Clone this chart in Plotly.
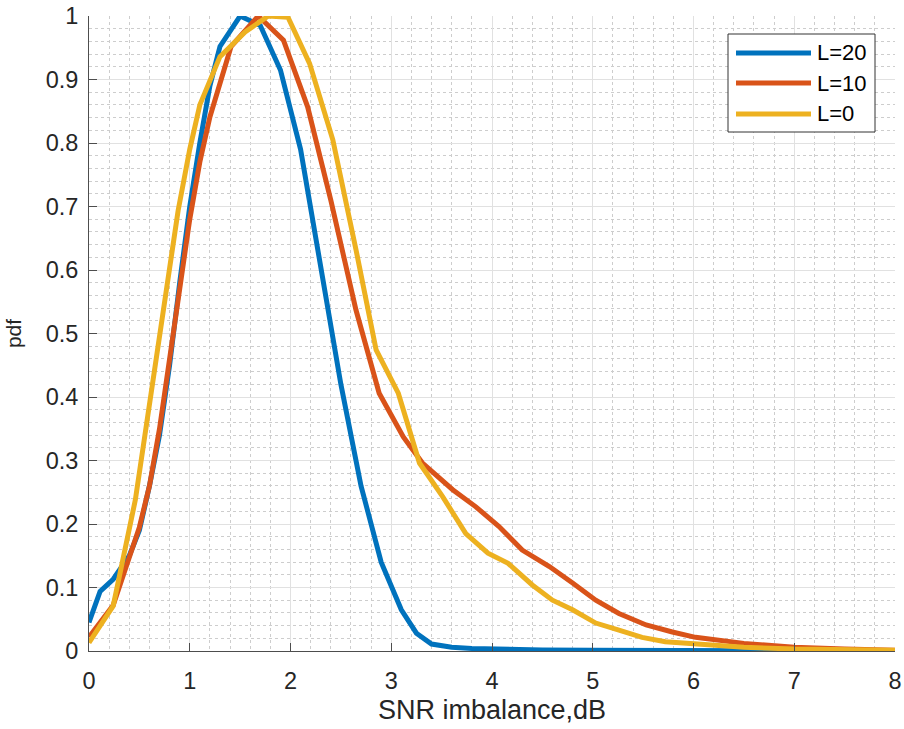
import plotly.graph_objects as go

# ---- data ----
x_L20 = [0.0, 0.11, 0.24, 0.4, 0.5, 0.6, 0.7, 0.8, 0.9, 1.0, 1.1, 1.2, 1.3, 1.5, 1.7, 1.9, 2.1, 2.3, 2.5,
         2.7, 2.9, 3.1, 3.25, 3.4, 3.6, 3.8, 4.0, 4.5, 5.0, 6.0, 7.0, 8.0]
y_L20 = [0.045, 0.094, 0.113, 0.15, 0.19, 0.26, 0.34, 0.45, 0.58, 0.70, 0.80, 0.89, 0.952, 1.0, 0.985, 0.915, 0.79, 0.61, 0.42,
         0.26, 0.14, 0.065, 0.028, 0.011, 0.006, 0.004, 0.003, 0.0015, 0.001, 0.0004, 0.0001, 0.0]

x_L10 = [0.0, 0.24, 0.5, 0.6, 0.7, 0.8, 0.9, 1.0, 1.1, 1.2, 1.41, 1.68, 1.93, 2.17, 2.4, 2.65, 2.88, 3.12,
         3.31, 3.61, 3.84, 4.07, 4.3, 4.57, 4.8, 5.03, 5.26, 5.53, 5.79, 6.02, 6.5, 7.0, 7.5, 8.0]
y_L10 = [0.022, 0.072, 0.195, 0.26, 0.35, 0.46, 0.58, 0.68, 0.77, 0.841, 0.952, 1.0, 0.962, 0.857, 0.71, 0.537, 0.406, 0.337,
         0.296, 0.254, 0.227, 0.196, 0.159, 0.133, 0.107, 0.08, 0.059, 0.041, 0.03, 0.0215, 0.012, 0.006, 0.003, 0.001]

x_L0 = [0.0, 0.24, 0.46, 0.6, 0.7, 0.885, 1.0, 1.1, 1.3, 1.55, 1.78, 1.975, 2.19, 2.42, 2.65, 2.85, 3.07,
        3.28, 3.51, 3.74, 3.96, 4.16, 4.4, 4.6, 4.8, 5.03, 5.26, 5.49, 5.72, 6.02, 6.5, 7.0, 8.0]
y_L0 = [0.013, 0.071, 0.238, 0.39, 0.5, 0.694, 0.79, 0.86, 0.936, 0.975, 1.0, 0.998, 0.925, 0.805, 0.632, 0.474, 0.406,
        0.296, 0.243, 0.185, 0.154, 0.138, 0.104, 0.08, 0.065, 0.044, 0.033, 0.0215, 0.0147, 0.011, 0.006, 0.003, 0.001]

series_names = ["L=20", "L=10", "L=0"]
colors = ["#0072BD", "#D95319", "#EDB120"]
x_ticks = [0, 1, 2, 3, 4, 5, 6, 7, 8]
y_ticks = [0, 0.1, 0.2, 0.3, 0.4, 0.5, 0.6, 0.7, 0.8, 0.9, 1]
y_tick_text = ["0", "0.1", "0.2", "0.3", "0.4", "0.5", "0.6", "0.7", "0.8", "0.9", "1"]

FONT = "Liberation Sans, Arial, Helvetica, sans-serif"
TXT = "#262626"

fig = go.Figure()
for xs, ys, name, c in zip([x_L20, x_L10, x_L0], [y_L20, y_L10, y_L0], series_names, colors):
    fig.add_trace(go.Scatter(x=xs, y=ys, mode="lines", name=name,
                             line=dict(color=c, width=5), showlegend=False))

W, H = 904, 729
ml, mr, mt, mb = 89, 9, 16, 78
fig.update_layout(
    width=W, height=H,
    margin=dict(l=ml, r=mr, t=mt, b=mb),
    paper_bgcolor="white", plot_bgcolor="white",
    font=dict(family=FONT, size=23.5, color=TXT),
)
fig.update_xaxes(
    range=[0, 8], tickvals=x_ticks, ticks="inside", ticklen=8, tickcolor="#4d4d4d",
    showline=True, linecolor="#4d4d4d", linewidth=1, zeroline=False, automargin=False,
    showgrid=True, gridcolor="#e1e1e1", gridwidth=1, ticklabeloverflow="allow",
    minor=dict(dtick=0.2, showgrid=True, gridcolor="#cdcdcd", griddash="3px,3px", gridwidth=1),
    ticklabelstandoff=9,
    title=dict(text="SNR imbalance,dB", font=dict(size=27, color=TXT), standoff=6),
)
fig.update_yaxes(
    range=[0, 1], tickvals=y_ticks, ticktext=y_tick_text, ticks="inside", ticklen=8, tickcolor="#4d4d4d",
    showline=True, linecolor="#4d4d4d", linewidth=1, zeroline=False, automargin=False,
    showgrid=True, gridcolor="#e1e1e1", gridwidth=1, ticklabeloverflow="allow",
    minor=dict(dtick=0.02, showgrid=True, gridcolor="#cdcdcd", griddash="3px,3px", gridwidth=1),
    ticklabelstandoff=5,
    title=dict(text="pdf", font=dict(size=21, color=TXT), standoff=18),
)

# ---- manual legend (MATLAB style); positions given in window pixels ----
pw, ph = W - ml - mr, H - mt - mb
def px(xp):
    return (xp - ml) / pw
def py(yp):
    return 1 - (yp - mt) / ph

box = (728, 34, 875, 132)
fig.add_shape(type="rect", xref="paper", yref="paper",
              x0=px(box[0]), x1=px(box[2]), y0=py(box[3]), y1=py(box[1]),
              line=dict(color="#333333", width=1), fillcolor="white", layer="above")
row_y = [53, 83, 114]
for name, c, yy in zip(series_names, colors, row_y):
    fig.add_shape(type="line", xref="paper", yref="paper",
                  x0=px(736), x1=px(811), y0=py(yy), y1=py(yy),
                  line=dict(color=c, width=5), layer="above")
    fig.add_annotation(xref="paper", yref="paper", x=px(815), y=py(yy), text=name,
                       showarrow=False, xanchor="left", yanchor="middle",
                       font=dict(size=22, color="#000000", family=FONT))

# remove the default 8px page margin so the figure sits at the window origin
fig.write_html("out.html", config={"displayModeBar": False},
               post_script="document.body.style.margin='0px';document.body.style.overflow='hidden';")
